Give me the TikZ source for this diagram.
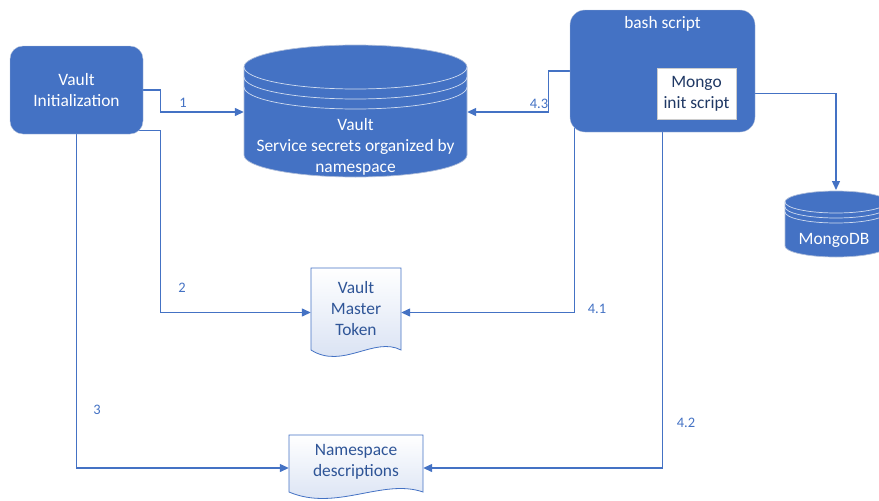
\documentclass[tikz,border=0pt]{standalone}
\usepackage{fontspec}
\setmainfont{Carlito}
\usetikzlibrary{arrows.meta,backgrounds}
\definecolor{boxblue}{HTML}{4472C4}
\definecolor{edgegray}{HTML}{AEBDDA}
\definecolor{doctext}{HTML}{2F5597}
\definecolor{docfill}{HTML}{D5DFF2}
\definecolor{navytext}{HTML}{1F3864}
\tikzset{
  every node/.style={font=\fontsize{17.4}{21}\selectfont, align=center, inner sep=0pt},
  blockbox/.style={fill=boxblue, draw=edgegray, rounded corners=13pt, text=white},
  flow/.style={draw=boxblue, line width=1.3pt, -{Triangle[length=9pt,width=8pt]}},
  flowlabel/.style={text=boxblue, font=\fontsize{14.5}{17}\selectfont},
  cylline/.style={draw=white!75!boxblue, line width=0.7pt},
}
% left, right, top, bottom, y radius, gap between rings
\newcommand{\dbcyl}[6]{%
  \pgfmathsetmacro{\rx}{(#2-#1)/2}
  \filldraw[fill=boxblue, draw=edgegray, line width=0.7pt] (#1,{-#3-#5}) arc[start angle=180, end angle=0, x radius=\rx, y radius=#5]
    -- (#2,{-#4+#5}) arc[start angle=0, end angle=-180, x radius=\rx, y radius=#5] -- cycle;
  \foreach \k in {0,1,2}
    \draw[cylline] (#1,{-#3-#5-\k*#6}) arc[start angle=180, end angle=360, x radius=\rx, y radius=#5];
}
% left, right, top, bottom
\newcommand{\docshape}[4]{%
  \pgfmathsetmacro{\w}{#2-#1}
  \draw[draw=boxblue, line width=0.8pt, top color=white, bottom color=docfill]
    (#1,-#3) -- (#2,-#3) -- (#2,-#4)
    .. controls ({#2-0.3*\w},{-#4+14}) and ({#1+0.35*\w},{-#4-20}) .. (#1,-#4) -- cycle;
}
\begin{document}
\begin{tikzpicture}[x=1pt,y=1pt]
  \useasboundingbox (0,0) rectangle (879,-501);
  \dbcyl{244}{467}{45}{177}{22}{10}
  \dbcyl{785}{887}{191}{257}{11}{5}
  \docshape{311}{401}{268}{350}
  \docshape{289}{423}{435}{492}

  \node[blockbox, minimum width=133pt, minimum height=88pt] (init) at (76.5,-90) {Vault\\Initialization};
  \node[blockbox, rounded corners=15pt, minimum width=185pt, minimum height=122pt] (bash) at (662.5,-71) {};
  \node[text=white] (bashtitle) at (662.5,-24) {bash script};
  \node[fill=white, draw=gray!40, text=navytext, minimum width=79pt, minimum height=51pt] (mis) at (696.5,-93.5) {Mongo\\init script};
  \node[text=white, minimum width=223pt] (vault) at (355.5,-147) {Vault\\Service secrets organized by\\namespace};
  \node[text=white] (mdb) at (834,-240) {MongoDB};
  \coordinate (mdbtop) at (836,-190);
  \node[text=doctext, minimum width=90pt] (token) at (356,-308.5) {Vault\\Master\\Token};
  \node[text=doctext, minimum width=134pt] (ns) at (356,-462) {Namespace\\descriptions};

  \begin{pgfonlayer}{background}
    \draw[flow] (init.east) -- ++(17,0) |- ([yshift=35]vault.west);
    \draw[flow] ([xshift=-5,yshift=4]init.south east) -- ++(22,0) |- ([yshift=-4]token.west);
    \draw[flow] (init.south) |- ([yshift=-6]ns.west);
    \draw[flow] (bash.west) -- ++(-21,0) |- ([yshift=35]vault.east);
    \draw[flow] (mis.east) -| (mdbtop);
    \draw[flow] ([xshift=5,yshift=5]bash.south west) |- ([yshift=-4]token.east);
    \draw[flow] ([xshift=93,yshift=5]bash.south west) |- ([yshift=-6]ns.east);
  \end{pgfonlayer}

  \node[flowlabel] (l1) at (183,-103) {1};
  \node[flowlabel] (l2) at (182,-288) {2};
  \node[flowlabel] (l3) at (97,-410) {3};
  \node[flowlabel] (l43) at (539,-104) {4.3};
  \node[flowlabel] (l41) at (597,-309) {4.1};
  \node[flowlabel] (l42) at (686,-423) {4.2};
\end{tikzpicture}
\end{document}
